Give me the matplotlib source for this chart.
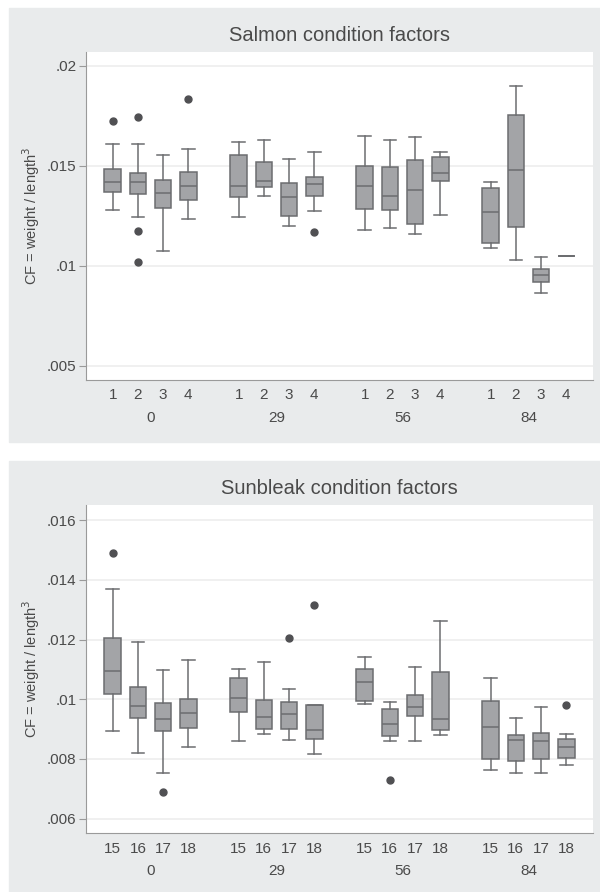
import numpy as np
import matplotlib
matplotlib.use('Agg')
import matplotlib.pyplot as plt
from matplotlib.patches import Rectangle
from matplotlib.transforms import blended_transform_factory

plt.rcParams['font.family'] = ['Liberation Sans', 'DejaVu Sans']

# sampling days (outer groups)
days = ['0', '29', '56', '84']

# Salmon: tanks 1-4 within each day, order: day 0 (1..4), day 29, day 56, day 84
salmon_tanks = ['1', '2', '3', '4']
salmon_whislo = [0.01278, 0.01242, 0.01073, 0.01235,
                 0.01245, 0.01350, 0.01197, 0.01273,
                 0.01180, 0.01188, 0.01160, 0.01252,
                 0.01087, 0.01027, 0.00863, 0.01047]
salmon_q1 = [0.01370, 0.01357, 0.01287, 0.01330,
             0.01343, 0.01393, 0.01247, 0.01350,
             0.01285, 0.01280, 0.01207, 0.01423,
             0.01115, 0.01193, 0.00918, 0.01047]
salmon_med = [0.01420, 0.01420, 0.01365, 0.01400,
              0.01400, 0.01422, 0.01342, 0.01410,
              0.01398, 0.01350, 0.01377, 0.01462,
              0.01267, 0.01480, 0.00952, 0.01047]
salmon_q3 = [0.01483, 0.01462, 0.01427, 0.01470,
             0.01553, 0.01517, 0.01415, 0.01442,
             0.01498, 0.01492, 0.01527, 0.01543,
             0.01388, 0.01753, 0.00985, 0.01047]
salmon_whishi = [0.01607, 0.01607, 0.01552, 0.01585,
                 0.01617, 0.01630, 0.01533, 0.01570,
                 0.01650, 0.01630, 0.01642, 0.01570,
                 0.01420, 0.01898, 0.01043, 0.01047]
salmon_fliers = [[0.01723], [0.01743, 0.01173, 0.01018], [], [0.01832],
                 [], [], [], [0.01170],
                 [], [], [], [],
                 [], [], [], []]
salmon_yticks = [0.005, 0.01, 0.015, 0.02]
salmon_yticklabels = ['.005', '.01', '.015', '.02']

# Sunbleak: tanks 15-18 within each day
sunbleak_tanks = ['15', '16', '17', '18']
sunbleak_whislo = [0.00894, 0.00821, 0.00752, 0.00839,
                   0.00860, 0.00883, 0.00865, 0.00818,
                   0.00985, 0.00861, 0.00861, 0.00879,
                   0.00763, 0.00752, 0.00754, 0.00781]
sunbleak_q1 = [0.01018, 0.00936, 0.00895, 0.00905,
               0.00959, 0.00902, 0.00902, 0.00867,
               0.00994, 0.00878, 0.00945, 0.00898,
               0.00801, 0.00792, 0.00801, 0.00802]
sunbleak_med = [0.01096, 0.00977, 0.00934, 0.00955,
                0.01006, 0.00941, 0.00952, 0.00896,
                0.01058, 0.00916, 0.00974, 0.00935,
                0.00906, 0.00864, 0.00859, 0.00839]
sunbleak_q3 = [0.01204, 0.01042, 0.00989, 0.01000,
               0.01070, 0.00997, 0.00991, 0.00980,
               0.01102, 0.00968, 0.01013, 0.01090,
               0.00994, 0.00879, 0.00886, 0.00868]
sunbleak_whishi = [0.01369, 0.01191, 0.01099, 0.01133,
                   0.01103, 0.01125, 0.01036, 0.00980,
                   0.01142, 0.00991, 0.01107, 0.01263,
                   0.01070, 0.00937, 0.00974, 0.00884]
sunbleak_fliers = [[0.01492], [], [0.00689], [],
                   [], [], [0.01204], [0.01317],
                   [], [0.00730], [], [],
                   [], [], [], [0.00981]]
sunbleak_yticks = [0.006, 0.008, 0.01, 0.012, 0.014, 0.016]
sunbleak_yticklabels = ['.006', '.008', '.01', '.012', '.014', '.016']

BG = '#e9ebec'
BOX = '#a3a4a7'
EDGE = '#6c6d70'
TXT = '#4a4a4a'


def panel(ax, title, tanks, lo, q1, med, q3, hi, fliers, yticks, yticklabels, ylim):
    pos = [5 * g + k for g in range(len(days)) for k in range(len(tanks))]
    stats = []
    for i in range(len(pos)):
        stats.append(dict(whislo=lo[i], q1=q1[i], med=med[i], q3=q3[i],
                          whishi=hi[i], fliers=fliers[i]))
    ax.bxp(stats, positions=pos, widths=0.66, patch_artist=True,
           boxprops=dict(facecolor=BOX, edgecolor=EDGE, linewidth=1.1),
           medianprops=dict(color=EDGE, linewidth=1.1),
           whiskerprops=dict(color=EDGE, linewidth=1.1),
           capprops=dict(color=EDGE, linewidth=1.1), capwidths=0.5,
           flierprops=dict(marker='o', markerfacecolor='#505053',
                           markeredgecolor='#505053', markersize=5))
    ax.set_xlim(-1.06, 19.05)
    ax.set_ylim(*ylim)
    ax.set_xticks(pos)
    ax.set_xticklabels(tanks * len(days), color=TXT, fontsize=11)
    ax.tick_params(axis='x', length=0, pad=6)
    ax.set_yticks(yticks)
    ax.set_yticklabels(yticklabels, color=TXT, fontsize=11)
    ax.tick_params(axis='y', length=5, color='#9a9a9a', pad=2)
    ax.yaxis.grid(True, color='#ededed', linewidth=1.2)
    ax.set_axisbelow(True)
    for s in ['top', 'right']:
        ax.spines[s].set_visible(False)
    for s in ['left', 'bottom']:
        ax.spines[s].set_color('#9a9a9a')
    ax.set_facecolor('white')
    tr = blended_transform_factory(ax.transData, ax.transAxes)
    for g, d in enumerate(days):
        ax.text(5 * g + 1.5, -0.116, d, transform=tr, ha='center', va='center',
                color=TXT, fontsize=11)
    ax.set_ylabel('CF = weight / length$^3$', color=TXT, fontsize=10.5)
    ax.yaxis.set_label_coords(-0.087, 0.5)
    ax.set_title(title, color=TXT, fontsize=14.5, pad=8)


fig = plt.figure(figsize=(6, 8.92), dpi=100)
fig.patches.append(Rectangle((9 / 600, 1 - 442 / 892), 591 / 600, 434 / 892,
                             transform=fig.transFigure, color=BG, zorder=-10))
fig.patches.append(Rectangle((9 / 600, 0), 591 / 600, 1 - 461 / 892,
                             transform=fig.transFigure, color=BG, zorder=-10))

ax1 = fig.add_axes([0.1433, 0.574, 0.8445, 0.3677])
ax2 = fig.add_axes([0.1433, 0.0658, 0.8445, 0.3681])

panel(ax1, 'Salmon condition factors', salmon_tanks, salmon_whislo, salmon_q1,
      salmon_med, salmon_q3, salmon_whishi, salmon_fliers,
      salmon_yticks, salmon_yticklabels, (0.004285, 0.02069))
panel(ax2, 'Sunbleak condition factors', sunbleak_tanks, sunbleak_whislo, sunbleak_q1,
      sunbleak_med, sunbleak_q3, sunbleak_whishi, sunbleak_fliers,
      sunbleak_yticks, sunbleak_yticklabels, (0.005509, 0.016514))

fig.savefig('out.png', dpi=100, facecolor='white')
